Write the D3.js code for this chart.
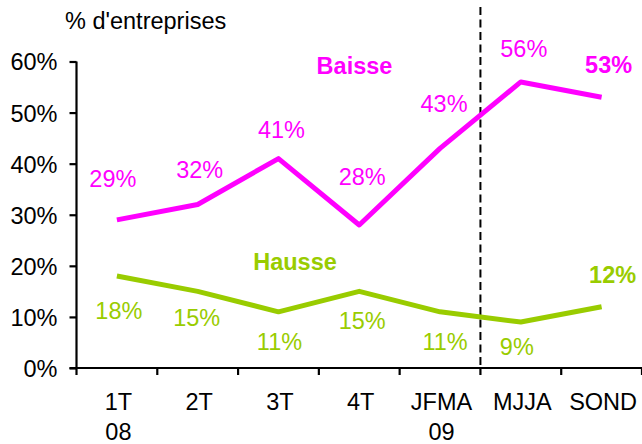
<!DOCTYPE html>
<html>
<head>
<meta charset="utf-8">
<script src="https://cdn.jsdelivr.net/npm/d3@7"></script>
<style>
  html, body { margin: 0; padding: 0; background: #fff; }
  svg { display: block; }
  text { font-family: "Liberation Sans", Arial, Helvetica, sans-serif; }
</style>
</head>
<body>
<svg id="chart" width="642" height="444"></svg>
<script>
// ---- data ----
const categories = ["1T 08", "2T", "3T", "4T", "JFMA 09", "MJJA", "SOND"];
const categoryLines = [["1T", "08"], ["2T"], ["3T"], ["4T"], ["JFMA", "09"], ["MJJA"], ["SOND"]];
const baisse = [29, 32, 41, 28, 43, 56, 53];
const hausse = [18, 15, 11, 15, 11, 9, 12];
const yTicks = [0, 10, 20, 30, 40, 50, 60];
const seriesNames = ["Baisse", "Hausse"];
const yTitle = "% d'entreprises";

// ---- layout (label offsets relative to each point, in px) ----
const baisseLabelOffsets = [[-4, -33], [2, -27], [3, -21], [3, -40], [4, -36], [3, -25], [7, -24]];
const hausseLabelOffsets = [[2, 43], [-1, 35], [1, 38], [3, 38], [5, 38], [-4, 33], [11, -24]];
const boldLast = true;

const MAGENTA = "#FF00FF";
const GREEN = "#99CC00";
const FS = 23.5;

const svg = d3.select("#chart");
const margin = { left: 76.5, right: 0, top: 61.5, bottom: 76 };
const W = 642, H = 444;
const x = d3.scaleBand().domain(categories).range([margin.left, W]).padding(0);
const y = d3.scaleLinear().domain([0, 60]).range([368, margin.top]);
const xc = c => x(c) + x.bandwidth() / 2;

// Y axis
const yAxis = d3.axisLeft(y).tickValues(yTicks).tickFormat(d => d + "%").tickSize(7).tickPadding(12);
const gy = svg.append("g").attr("transform", `translate(${margin.left},0)`).call(yAxis);
gy.select(".domain").attr("stroke", "#000").attr("stroke-width", 2.2).attr("d", `M0,${y(60)}V${y(0)}`);
gy.selectAll(".tick line").attr("stroke", "#000").attr("stroke-width", 2.2);
gy.selectAll(".tick text").attr("fill", "#000").style("font-size", FS + "px")
  .style("font-family", '"Liberation Sans", Arial, sans-serif').attr("dy", "0.36em");

// X axis line + boundary ticks
svg.append("line").attr("x1", margin.left - 7).attr("x2", W).attr("y1", y(0)).attr("y2", y(0))
  .attr("stroke", "#000").attr("stroke-width", 2.2);
const bounds = categories.map(c => x(c)).concat([x(categories[categories.length - 1]) + x.bandwidth()]);
svg.append("g").selectAll("line").data(bounds).join("line")
  .attr("x1", d => d).attr("x2", d => d).attr("y1", y(0)).attr("y2", y(0) + 7)
  .attr("stroke", "#000").attr("stroke-width", 2.2);

// X labels
const xl = svg.append("g").selectAll("text").data(categories).join("text")
  .attr("text-anchor", "middle").attr("fill", "#000").style("font-size", FS + "px")
  .attr("x", d => xc(d) + 1.5).attr("y", 410);
xl.each(function(d, i) {
  const t = d3.select(this);
  categoryLines[i].forEach((s, j) => {
    t.append("tspan").attr("x", xc(d) + 1.5).attr("y", 410 + j * 30).text(s);
  });
});

// Y title
svg.append("text").attr("x", 65).attr("y", 29).attr("fill", "#000")
  .style("font-size", FS + "px").text(yTitle);

// Dashed separator between JFMA 09 and MJJA
const sepX = x("MJJA");
svg.append("line").attr("x1", sepX).attr("x2", sepX).attr("y1", 7).attr("y2", y(0))
  .attr("stroke", "#000").attr("stroke-width", 2).attr("stroke-dasharray", "8,4.5");

// Lines
const line = d3.line().x((d, i) => xc(categories[i])).y(d => y(d));
svg.append("path").datum(hausse).attr("d", line).attr("fill", "none")
  .attr("stroke", GREEN).attr("stroke-width", 5).attr("stroke-linejoin", "round");
svg.append("path").datum(baisse).attr("d", line).attr("fill", "none")
  .attr("stroke", MAGENTA).attr("stroke-width", 5).attr("stroke-linejoin", "round");

// Value labels
function labels(data, offs, color) {
  svg.append("g").selectAll("text").data(data).join("text")
    .attr("text-anchor", "middle").attr("fill", color).style("font-size", FS + "px")
    .style("font-weight", (d, i) => (boldLast && i === data.length - 1) ? "bold" : "normal")
    .attr("x", (d, i) => xc(categories[i]) + offs[i][0])
    .attr("y", (d, i) => y(d) + offs[i][1])
    .text(d => d + "%");
}
labels(baisse, baisseLabelOffsets, MAGENTA);
labels(hausse, hausseLabelOffsets, GREEN);

// Series names
svg.append("text").attr("x", 354.5).attr("y", y(57.6)).attr("text-anchor", "middle")
  .attr("fill", MAGENTA).style("font-size", FS + "px").style("font-weight", "bold").text(seriesNames[0]);
svg.append("text").attr("x", 295).attr("y", y(19.25)).attr("text-anchor", "middle")
  .attr("fill", GREEN).style("font-size", FS + "px").style("font-weight", "bold").text(seriesNames[1]);
</script>
</body>
</html>
